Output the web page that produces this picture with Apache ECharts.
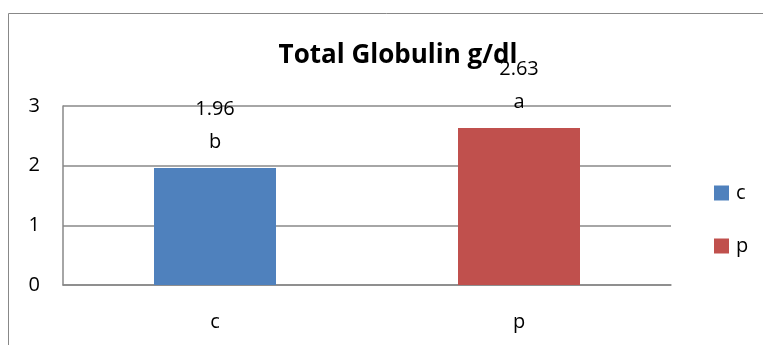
<!DOCTYPE html>
<html><head><meta charset="utf-8">
<script src="https://cdn.jsdelivr.net/npm/echarts@6/dist/echarts.min.js"></script>
<style>html,body{margin:0;padding:0;background:#fff}#c{width:763px;height:345px}</style>
</head><body><div id="c"></div>
<script>
var categories = ['c', 'p'];
var seriesNames = ['c', 'p'];
var values = [1.96, 2.63];
var letters = ['b', 'a'];
var colors = ['#4F81BD', '#C0504D'];
var yTicks = [0, 1, 2, 3];

var FONT = '"Open Sans", "Liberation Sans", sans-serif';
var chart = echarts.init(document.getElementById('c'));
var series = seriesNames.map(function (name, i) {
  var data = categories.map(function (c, j) { return j === i ? values[i] : '-'; });
  return {
    name: name, type: 'bar', stack: 'all', data: data, barWidth: 122,
    itemStyle: { color: colors[i] },
    label: {
      show: true, position: 'top', distance: 9,
      formatter: function () { return values[i].toFixed(2) + '\n' + letters[i]; },
      fontFamily: FONT, fontSize: 20, color: '#000', lineHeight: 33
    }
  };
});
chart.setOption({
  animation: false,
  textStyle: { fontFamily: FONT },
  graphic: [{ type: 'rect', shape: { x: 8.5, y: 13.5, width: 800, height: 400 }, style: { fill: 'none', stroke: '#888', lineWidth: 1 }, silent: true }],
  title: {
    text: 'Total Globulin g/dl', left: 393, top: 38, textAlign: 'center',
    textStyle: { fontFamily: FONT, fontSize: 26, fontWeight: 'bold', color: '#000' }
  },
  legend: {
    orient: 'vertical', left: 714, top: 183, padding: 0, itemWidth: 15, itemHeight: 15, itemGap: 33,
    icon: 'rect', data: seriesNames,
    textStyle: { fontFamily: FONT, fontSize: 20, lineHeight: 15, color: '#000', padding: [0, 0, 0, 2] }
  },
  grid: { left: 63, right: 92, top: 106, bottom: 60, containLabel: false },
  xAxis: {
    type: 'category', data: categories,
    axisLine: { lineStyle: { color: '#888', width: 1.5 } },
    axisTick: { show: false },
    axisLabel: { margin: 27, fontFamily: FONT, fontSize: 20, color: '#000' }
  },
  yAxis: {
    type: 'value', min: yTicks[0], max: yTicks[yTicks.length - 1], interval: 1,
    axisLine: { show: true, lineStyle: { color: '#888', width: 1.5 } },
    axisTick: { show: false },
    splitLine: { lineStyle: { color: '#888', width: 1.5 } },
    axisLabel: { margin: 23, fontFamily: FONT, fontSize: 20, color: '#000' }
  },
  series: series
});
</script></body></html>
